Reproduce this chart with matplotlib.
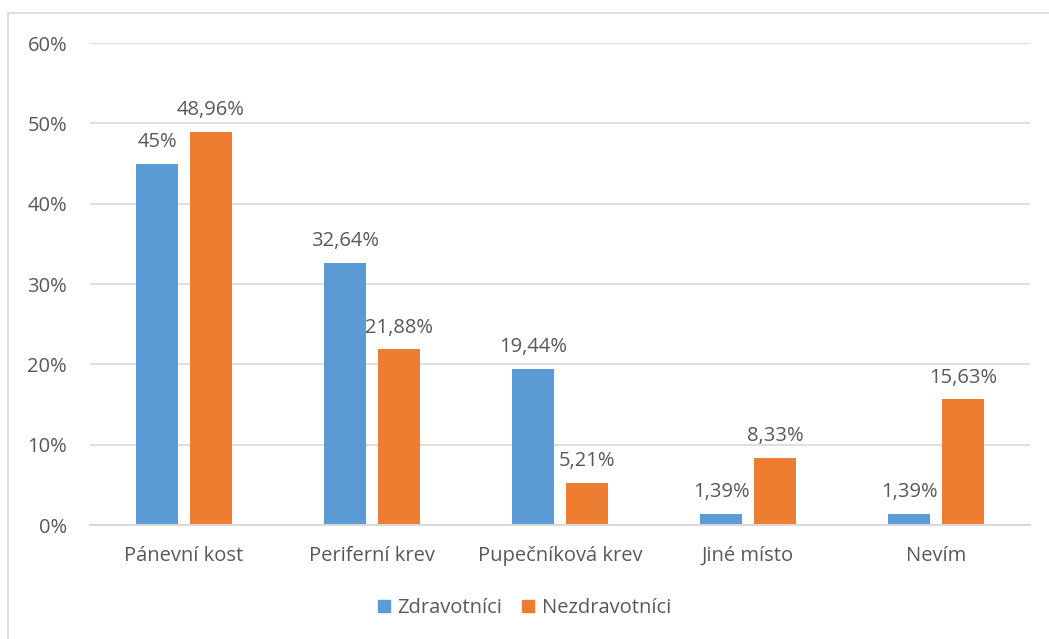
import numpy as np
import matplotlib.pyplot as plt
from matplotlib.lines import Line2D

categories = ["Pánevní kost", "Periferní krev", "Pupečníková krev", "Jiné místo", "Nevím"]
zdravotnici = [45.0, 32.64, 19.44, 1.39, 1.39]
nezdravotnici = [48.96, 21.88, 5.21, 8.33, 15.63]
series_names = ["Zdravotníci", "Nezdravotníci"]
yticks = [0, 10, 20, 30, 40, 50, 60]

BLUE = "#5B9BD5"
ORANGE = "#ED7D31"
TEXT = "#595959"
GRID = "#D9D9D9"
FS = 14.5

plt.rcParams['font.family'] = ['Open Sans', 'DejaVu Sans']


def fmt(v):
    s = f"{v:.2f}".rstrip("0").rstrip(".")
    return s.replace(".", ",") + "%"


fig = plt.figure(figsize=(10.49, 6.39), dpi=100)
ax = fig.add_axes([0.0858, 0.1784, 0.8962, 0.7543])

# outer chart frame
fig.add_artist(Line2D([8 / 1049, 8 / 1049], [0, 1 - 13 / 639], color=GRID, lw=1.2))
fig.add_artist(Line2D([8 / 1049, 1], [1 - 13 / 639, 1 - 13 / 639], color=GRID, lw=1.2))

x = np.arange(len(categories))
w = 0.223
off = 0.1436
b1 = ax.bar(x - off, zdravotnici, w, color=BLUE, zorder=3)
b2 = ax.bar(x + off, nezdravotnici, w, color=ORANGE, zorder=3)

for bars, vals in ((b1, zdravotnici), (b2, nezdravotnici)):
    for bar, v in zip(bars, vals):
        ax.annotate(fmt(v), (bar.get_x() + bar.get_width() / 2, v),
                    xytext=(0, 12), textcoords="offset points",
                    ha="center", va="baseline", fontsize=FS, color=TEXT)

ax.set_xlim(-0.5, len(categories) - 0.5)
ax.set_ylim(0, 60)
ax.set_yticks(yticks)
ax.set_yticklabels([f"{t}%" for t in yticks])
ax.set_xticks(x)
ax.set_xticklabels(categories)
ax.tick_params(axis="y", length=0, pad=16.5, labelsize=FS, labelcolor=TEXT)
ax.tick_params(axis="x", length=0, pad=15, labelsize=FS, labelcolor=TEXT)
ax.yaxis.grid(True, color=GRID, lw=1.2, zorder=0)
for side in ("left", "right", "top"):
    ax.spines[side].set_visible(False)
ax.spines["bottom"].set_color(GRID)
ax.spines["bottom"].set_linewidth(1.5)
ax.spines["bottom"].set_zorder(4)

handles = [plt.Rectangle((0, 0), 1, 1, color=BLUE), plt.Rectangle((0, 0), 1, 1, color=ORANGE)]
fig.legend(handles, series_names, loc="center", bbox_to_anchor=(0.5, 1 - 608 / 639),
           ncol=2, frameon=False, fontsize=FS, labelcolor=TEXT,
           handlelength=0.6, handleheight=0.6, handletextpad=0.35, columnspacing=1.0)

fig.savefig("out.png", dpi=100)
